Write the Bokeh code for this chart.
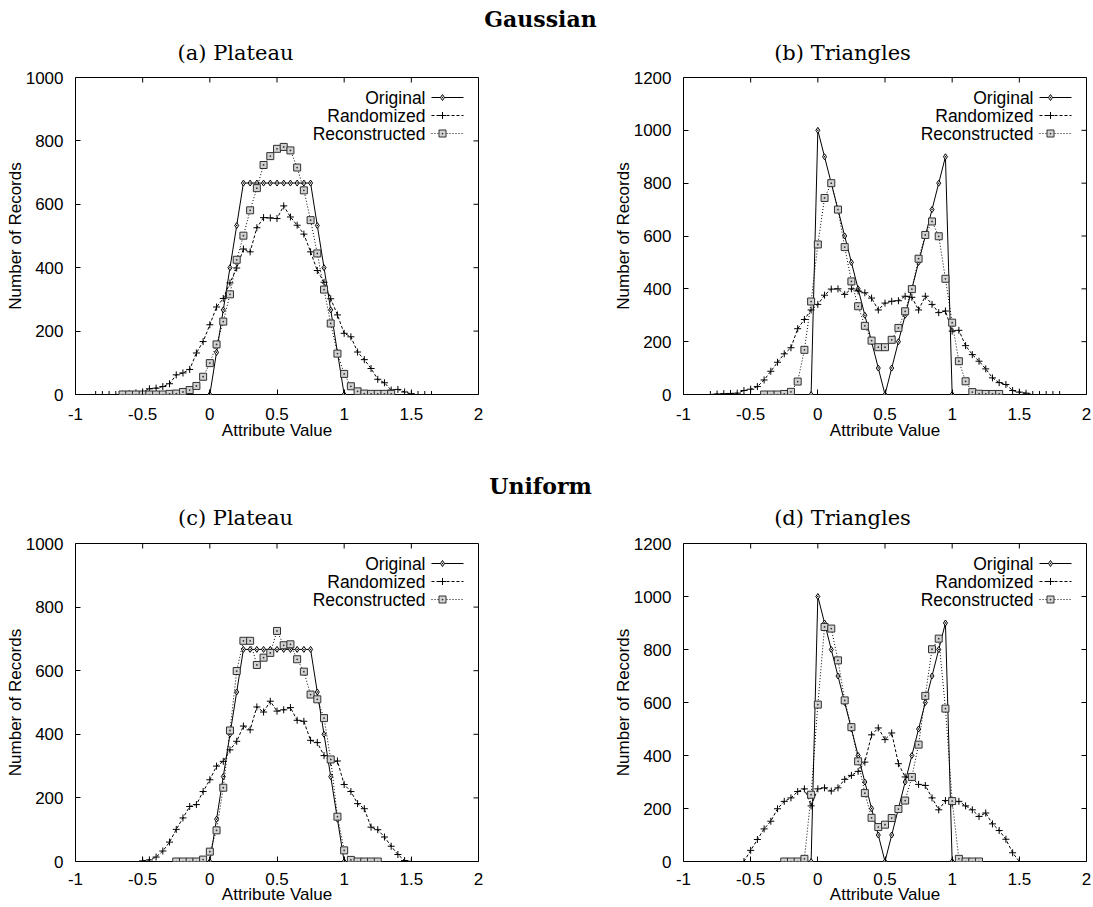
from bokeh.plotting import figure
from bokeh.models import Label, FixedTicker, NumeralTickFormatter, Range1d
from bokeh.layouts import column, row
from bokeh.embed import file_html
from bokeh.resources import INLINE

# ---------------- data (bin width 0.05) ----------------
STEP = 0.05
X_TICKS = [-1, -0.5, 0, 0.5, 1, 1.5, 2]
Y_TICKS_PLATEAU = [0, 200, 400, 600, 800, 1000]
Y_TICKS_TRIANGLES = [0, 200, 400, 600, 800, 1000, 1200]

# (a) Gaussian / Plateau
a_orig_start = 0.0
a_orig = [0, 133, 267, 400, 533, 667, 667, 667, 667, 667, 667, 667, 667, 667, 667, 667,
          533, 400, 267, 133, 0]
a_rand_start = -0.85
a_rand = [0, 0, 0, 0, 1, 3, 5, 8, 18, 20, 25, 34, 62, 68, 79, 131, 167,
          220, 276, 303, 352, 399, 459, 450, 526, 558, 557, 555, 595, 560, 534, 506, 450,
          391, 354, 302, 251,
          193, 182, 134, 110, 82, 48, 37, 14, 16, 8, 2, 0, 0, 0]
a_rec_start = -0.65
a_rec = [0, 0, 0, 0, 0, 0, 0, 2, 3, 8, 14, 27, 56,
         99, 158, 230, 316, 425, 501, 581, 651, 724, 752, 775, 781, 770, 716, 644, 550,
         445, 331, 224, 129,
         65, 26, 10, 3, 2, 2, 2, 2]

# (b) Gaussian / Triangles
b_orig_start = -0.05
b_orig = [0, 1000, 900, 800, 700, 600, 500, 400, 300, 200, 100, 0, 100, 200, 300, 400,
          500, 600, 700, 800, 900, 0]
b_rand_start = -0.8
b_rand = [0, 2, 3, 4, 5, 15, 20, 30, 55, 88, 122, 154, 177, 249, 284, 320,
          341, 376, 399, 400, 379, 400, 392, 385, 365, 320, 346, 353, 355, 372, 368, 320,
          372, 341, 310, 316,
          240, 243, 185, 151, 126, 97, 63, 45, 38, 15, 9, 5, 0, 0, 0, 0, 0]
b_rec_start = -0.4
b_rec = [0, 0, 0, 2, 10, 49, 169, 352,
         568, 744, 800, 700, 558, 428, 334, 260, 204, 179, 179, 207, 252, 315, 399, 514,
         604, 655, 599, 438,
         272, 126, 50, 9, 3, 2, 2, 2]

# (c) Uniform / Plateau
c_orig_start = 0.0
c_orig = [0, 133, 267, 400, 533, 667, 667, 667, 667, 667, 667, 667, 667, 667, 667, 667,
          533, 400, 267, 133, 0]
c_rand_start = -0.5
c_rand = [2, 5, 14, 33, 61, 101, 137, 173, 179, 220,
          257, 300, 315, 351, 378, 426, 414, 486, 470, 504, 473, 477, 484, 444, 441, 381,
          374, 333, 312, 316,
          242, 220, 182, 166, 108, 100, 77, 48, 22, 3, 0]
c_rec_start = -0.25
c_rec = [0, 0, 0, 0, 6,
         31, 98, 232, 412, 599, 694, 694, 618, 641, 656, 725, 680, 683, 636, 597, 525,
         510, 451, 321, 141,
         35, 5, 0, 0, 0, 0]

# (d) Uniform / Triangles
d_orig_start = -0.05
d_orig = [0, 1000, 900, 800, 700, 600, 500, 400, 300, 200, 100, 0, 100, 200, 300, 400,
          500, 600, 700, 800, 900, 0]
d_rand_start = -0.55
d_rand = [0, 42, 83, 123, 152, 199, 227, 240, 264, 274, 210,
          274, 278, 266, 278, 310, 325, 340, 375, 478, 504, 460, 485, 369, 319, 316, 291,
          287, 240, 195, 230,
          218, 227, 210, 195, 170, 183, 142, 117, 84, 33, 0]
d_rec_start = -0.25
d_rec = [0, 0, 0, 10, 252,
         592, 885, 879, 759, 608, 507, 378, 258, 165, 130, 139, 164, 198, 230, 319, 441,
         625, 801, 841, 577,
         228, 10, 0, 0, 0]

SERIES_NAMES = ["Original", "Randomized", "Reconstructed"]
GROUP_TITLES = ["Gaussian", "Uniform"]
PANEL_TITLES = ["(a) Plateau", "(b) Triangles", "(c) Plateau", "(d) Triangles"]

# ---------------- styling ----------------
SANS = "Liberation Sans"
SERIF = "DejaVu Serif"
FW = 403
TICK = 5
STYLES = [
    dict(dash="solid", marker="diamond_dot", size=6, fill="white", line="black"),
    dict(dash="3 2", marker="cross", size=7, fill=None, line="black"),
    dict(dash="1 2", marker="square_dot", size=7, fill="#d2d2d2", line="#303030"),
]


def bins(start, n):
    return [round(start + STEP * i, 4) for i in range(n)]


def make_panel(ymax, yticks, series, width, height, bl, br, bt, bb, fh, tick_so, lab_so):
    p = figure(width=width, height=height, title=None,
               x_range=Range1d(-1, 2), y_range=Range1d(0, ymax),
               output_backend="svg", toolbar_location=None,
               min_border_left=bl, min_border_right=br,
               min_border_top=bt, min_border_bottom=bb)
    p.grid.grid_line_color = None
    p.outline_line_color = "black"
    p.outline_line_width = 1
    p.background_fill_color = "white"
    p.border_fill_color = "white"

    xax = p.xaxis[0]
    xax.ticker = FixedTicker(ticks=X_TICKS)
    xax.formatter = NumeralTickFormatter(format="0.[0]")
    xax.axis_label = "Attribute Value"
    yax = p.yaxis[0]
    yax.ticker = FixedTicker(ticks=yticks)
    yax.axis_label = "Number of Records"
    for ax in (xax, yax):
        ax.major_tick_in = TICK
        ax.major_tick_out = 0
        ax.minor_tick_line_color = None
        ax.axis_line_color = None
        ax.major_tick_line_color = "black"
        ax.major_label_text_font = SANS
        ax.major_label_text_font_size = "17px"
        ax.major_label_text_color = "black"
        ax.axis_label_text_font = SANS
        ax.axis_label_text_font_size = "17px"
        ax.axis_label_text_font_style = "normal"
        ax.axis_label_text_color = "black"
    yax.major_label_standoff = 12
    yax.axis_label_standoff = -2
    xax.major_label_standoff = tick_so
    xax.axis_label_standoff = lab_so

    # mirrored inward ticks on top and right edges (from the tick lists)
    dy = TICK / fh * ymax
    dx = TICK / FW * 3.0
    p.segment(x0=X_TICKS, y0=[ymax] * len(X_TICKS), x1=X_TICKS,
              y1=[ymax - dy] * len(X_TICKS), line_color="black", line_width=1)
    p.segment(x0=[2] * len(yticks), y0=yticks, x1=[2 - dx] * len(yticks), y1=yticks,
              line_color="black", line_width=1)

    for (start, vals), st in zip(series, STYLES):
        xs = bins(start, len(vals))
        p.line(xs, vals, line_color="black", line_width=1, line_dash=st["dash"])
        p.scatter(xs, vals, marker=st["marker"], size=st["size"], line_color=st["line"],
                  line_width=1, fill_color=st["fill"])

    # gnuplot-style key: text right-aligned, sample to its right
    def px_from_right(d):
        return 2 - d * 3.0 / FW

    def py_from_top(d):
        return ymax * (1 - d / fh)

    for i, (name, st) in enumerate(zip(SERIES_NAMES, STYLES)):
        yk = py_from_top(20 + 18 * i)
        p.add_layout(Label(x=px_from_right(53), y=yk, text=name, text_align="right",
                           text_baseline="middle", text_font=SANS,
                           text_font_size="17.5px", text_color="black"))
        p.line([px_from_right(47), px_from_right(15)], [yk, yk], line_color="black",
               line_width=1, line_dash=st["dash"])
        p.scatter([px_from_right(36)], [yk], marker=st["marker"], size=st["size"],
                  line_color=st["line"], line_width=1, fill_color=st["fill"])
    return p


def header(width, height, texts):
    p = figure(width=width, height=height, title=None,
               x_range=Range1d(0, width), y_range=Range1d(0, height),
               output_backend="svg", toolbar_location=None, min_border=0,
               x_axis_location=None, y_axis_location=None)
    p.grid.grid_line_color = None
    p.outline_line_color = None
    for text, cx, cy, size, style in texts:
        p.add_layout(Label(x=cx, y=height - cy, text=text, text_align="center",
                           text_baseline="middle", text_font=SERIF, text_font_size=size,
                           text_font_style=style, text_color="black"))
    return p


WA, WB = 546, 547
W = WA + WB
TA_X, TB_X = 235, 842

h1 = header(W, 66, [(GROUP_TITLES[0], 540, 18, "22px", "bold"),
                    (PANEL_TITLES[0], TA_X, 52, "21px", "normal"),
                    (PANEL_TITLES[1], TB_X, 52, "21px", "normal")])
pa = make_panel(1000, Y_TICKS_PLATEAU,
                [(a_orig_start, a_orig), (a_rand_start, a_rand), (a_rec_start, a_rec)],
                WA, 394, 75, 68, 11, 66, 317, 13, -2)
pb = make_panel(1200, Y_TICKS_TRIANGLES,
                [(b_orig_start, b_orig), (b_rand_start, b_rand), (b_rec_start, b_rec)],
                WB, 394, 137, 7, 11, 66, 317, 13, -2)
h2 = header(W, 70, [(GROUP_TITLES[1], 540, 25, "22px", "bold"),
                    (PANEL_TITLES[2], TA_X, 57, "21px", "normal"),
                    (PANEL_TITLES[3], TB_X, 57, "21px", "normal")])
pc = make_panel(1000, Y_TICKS_PLATEAU,
                [(c_orig_start, c_orig), (c_rand_start, c_rand), (c_rec_start, c_rec)],
                WA, 377, 75, 68, 13, 46, 318, 11, -3)
pd = make_panel(1200, Y_TICKS_TRIANGLES,
                [(d_orig_start, d_orig), (d_rand_start, d_rand), (d_rec_start, d_rec)],
                WB, 377, 137, 7, 13, 46, 318, 11, -3)

layout = column(h1, row(pa, pb, spacing=0), h2, row(pc, pd, spacing=0), spacing=0)

open("out.html", "w").write(file_html(layout, INLINE))
